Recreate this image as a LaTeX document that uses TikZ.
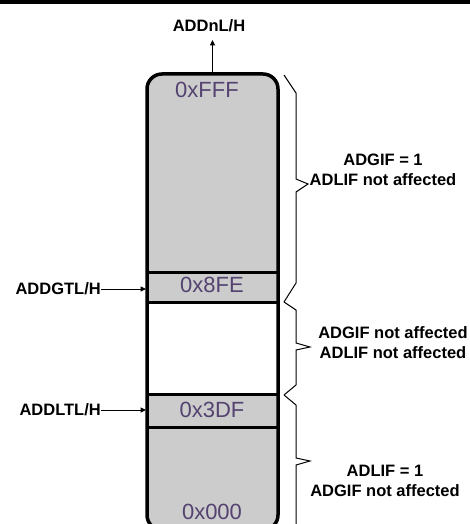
\documentclass[tikz,border=0pt]{standalone}
\usepackage{fontspec}
\setmainfont{Liberation Sans}
\usetikzlibrary{arrows.meta}
\definecolor{boxgray}{RGB}{204,204,204}
\definecolor{addrcol}{RGB}{84,66,112}
\tikzset{
  lbl/.style={font=\bfseries\fontsize{16.5bp}{20bp}\selectfont, align=center, inner sep=0pt},
  addr/.style={font=\fontsize{22bp}{24bp}\selectfont, text=addrcol, inner sep=0pt},
  arr/.style={line width=1bp, -{Triangle[length=5.5bp,width=5bp]}},
  bracepath/.style={line width=1bp, line join=miter},
}
\begin{document}
\begin{tikzpicture}[x=1bp,y=-1bp]
\useasboundingbox (0,0) rectangle (470,524);
\clip (0,0) rectangle (470,524);
\fill[black] (0,0) rectangle (470,4);
% memory block
\fill[boxgray, rounded corners=15bp] (147,530) -- (147,74) -- (278,74) -- (278,530) -- cycle;
\fill[white] (147,302) rectangle (278,394);
\draw[line width=3bp] (147,272) -- (278,272);
\draw[line width=3bp] (147,302) -- (278,302);
\draw[line width=3bp] (147,394) -- (278,394);
\draw[line width=3bp] (147,427) -- (278,427);
\draw[line width=3.5bp, rounded corners=15bp] (147,530) -- (147,74) -- (278,74) -- (278,530) -- cycle;
% address labels
\node[addr] (fff) at (207,90) {0xFFF};
\node[addr] (n8fe) at (212,285) {0x8FE};
\node[addr] (n3df) at (212,410) {0x3DF};
\node[addr] (n000) at (212,512) {0x000};
% register labels and arrows
\node[lbl] (addn) at (209,26) {ADDnL/H};
\coordinate (boxtop) at (212.5,73);
\coordinate (addtip) at (212.5,40);
\draw[arr] (boxtop) -- (addtip);
\node[lbl, anchor=east] (gtl) at (101,289) {ADDGTL/H};
\coordinate (gtin) at (146,289);
\draw[arr] (gtl.east) -- (gtin);
\node[lbl, anchor=east] (ltl) at (101,410) {ADDLTL/H};
\coordinate (ltin) at (146,410);
\draw[arr] (ltl.east) -- (ltin);
% braces
\draw[bracepath] (284,75) -- (296,93) -- (296,179) -- (308,184) -- (296,192) -- (296,283) -- (284,302);
\draw[bracepath] (284,302) -- (296,310) -- (296,343) -- (310,347) -- (296,350) -- (296,385) -- (284,395);
\draw[bracepath] (284,395) -- (296,405) -- (296,458) -- (310,461) -- (296,465) -- (296,530);
% brace texts
\node[lbl] (t1) at (383,170) {ADGIF = 1\\ADLIF not affected};
\node[lbl] (t2) at (393,343) {ADGIF not affected\\ADLIF not affected};
\node[lbl] (t3) at (385,481) {ADLIF = 1\\ADGIF not affected};
\end{tikzpicture}
\end{document}
